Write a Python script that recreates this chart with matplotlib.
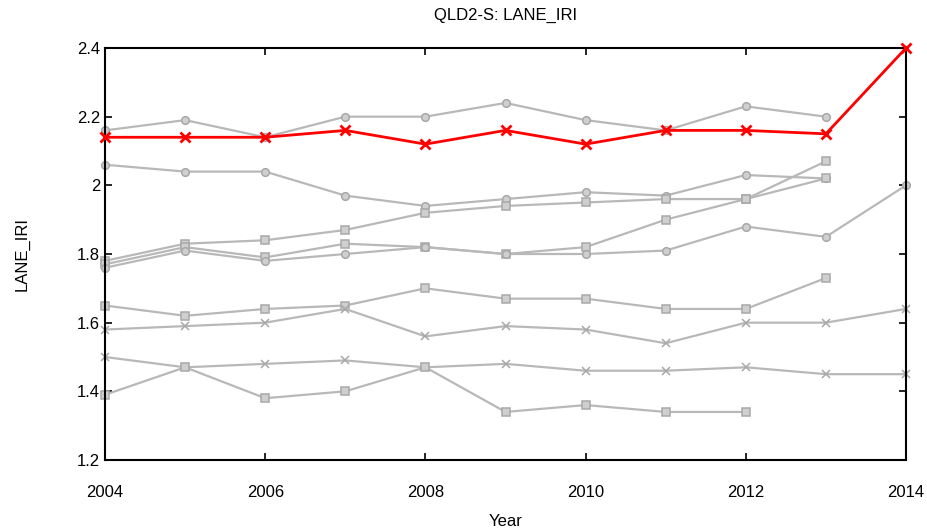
import matplotlib
matplotlib.use("Agg")
import matplotlib.pyplot as plt

plt.rcParams['font.family'] = ['Liberation Sans', 'DejaVu Sans']

years = list(range(2004, 2015))

# grey background sections (values by year, starting 2004)
grey_a = [2.16, 2.19, 2.14, 2.20, 2.20, 2.24, 2.19, 2.16, 2.23, 2.20]
grey_b = [2.06, 2.04, 2.04, 1.97, 1.94, 1.96, 1.98, 1.97, 2.03, 2.02]
grey_c = [1.78, 1.83, 1.84, 1.87, 1.92, 1.94, 1.95, 1.96, 1.96, 2.02]
grey_d = [1.77, 1.82, 1.79, 1.83, 1.82, 1.80, 1.82, 1.90, 1.96, 2.07]
grey_e = [1.76, 1.81, 1.78, 1.80, 1.82, 1.80, 1.80, 1.81, 1.88, 1.85, 2.00]
grey_f = [1.65, 1.62, 1.64, 1.65, 1.70, 1.67, 1.67, 1.64, 1.64, 1.73]
grey_g = [1.58, 1.59, 1.60, 1.64, 1.56, 1.59, 1.58, 1.54, 1.60, 1.60, 1.64]
grey_h = [1.50, 1.47, 1.48, 1.49, 1.47, 1.48, 1.46, 1.46, 1.47, 1.45, 1.45]
grey_i = [1.39, 1.47, 1.38, 1.40, 1.47, 1.34, 1.36, 1.34, 1.34]

red_series = [2.14, 2.14, 2.14, 2.16, 2.12, 2.16, 2.12, 2.16, 2.16, 2.15, 2.40]

title = "QLD2-S: LANE_IRI"
xlabel = "Year"
ylabel = "LANE_IRI"
xticks = [2004, 2006, 2008, 2010, 2012, 2014]
yticks = [1.2, 1.4, 1.6, 1.8, 2.0, 2.2, 2.4]
ytick_labels = ["1.2", "1.4", "1.6", "1.8", "2", "2.2", "2.4"]

fig = plt.figure(figsize=(9.28, 5.32), dpi=100)
ax = fig.add_axes([105/928, 1 - 460/532, (906-105)/928, (460-48)/532])

grey = "#b8b8b8"
greys = [(grey_a, 'o'), (grey_b, 'o'), (grey_c, 's'), (grey_d, 's'), (grey_e, 'o'),
         (grey_f, 's'), (grey_g, 'x'), (grey_h, 'x'), (grey_i, 's')]
for vals, mk in greys:
    ax.plot(years[:len(vals)], vals, color=grey, lw=1.6, marker=mk, ms=5.5,
            mfc='#cfcfcf', mec='#a8a8a8', mew=1.1, zorder=2, clip_on=False)

ax.plot(years, red_series, color="#ff0000", lw=2, marker='x', ms=7, mew=2,
        zorder=3, clip_on=False)

ax.set_xlim(2004, 2014)
ax.set_ylim(1.2, 2.4)
ax.set_xticks(xticks)
ax.set_xticklabels([str(x) for x in xticks])
ax.set_yticks(yticks)
ax.set_yticklabels(ytick_labels)
ax.tick_params(direction='in', top=True, right=True, length=5, width=1.2,
               labelsize=12)
ax.tick_params(axis='x', pad=18)
for s in ax.spines.values():
    s.set_linewidth(1.5)

ax.set_title(title, fontsize=12, pad=20)
ax.set_xlabel(xlabel, fontsize=12, labelpad=10)
ax.set_ylabel(ylabel, fontsize=12, labelpad=34)

fig.savefig("out.png", dpi=100)
